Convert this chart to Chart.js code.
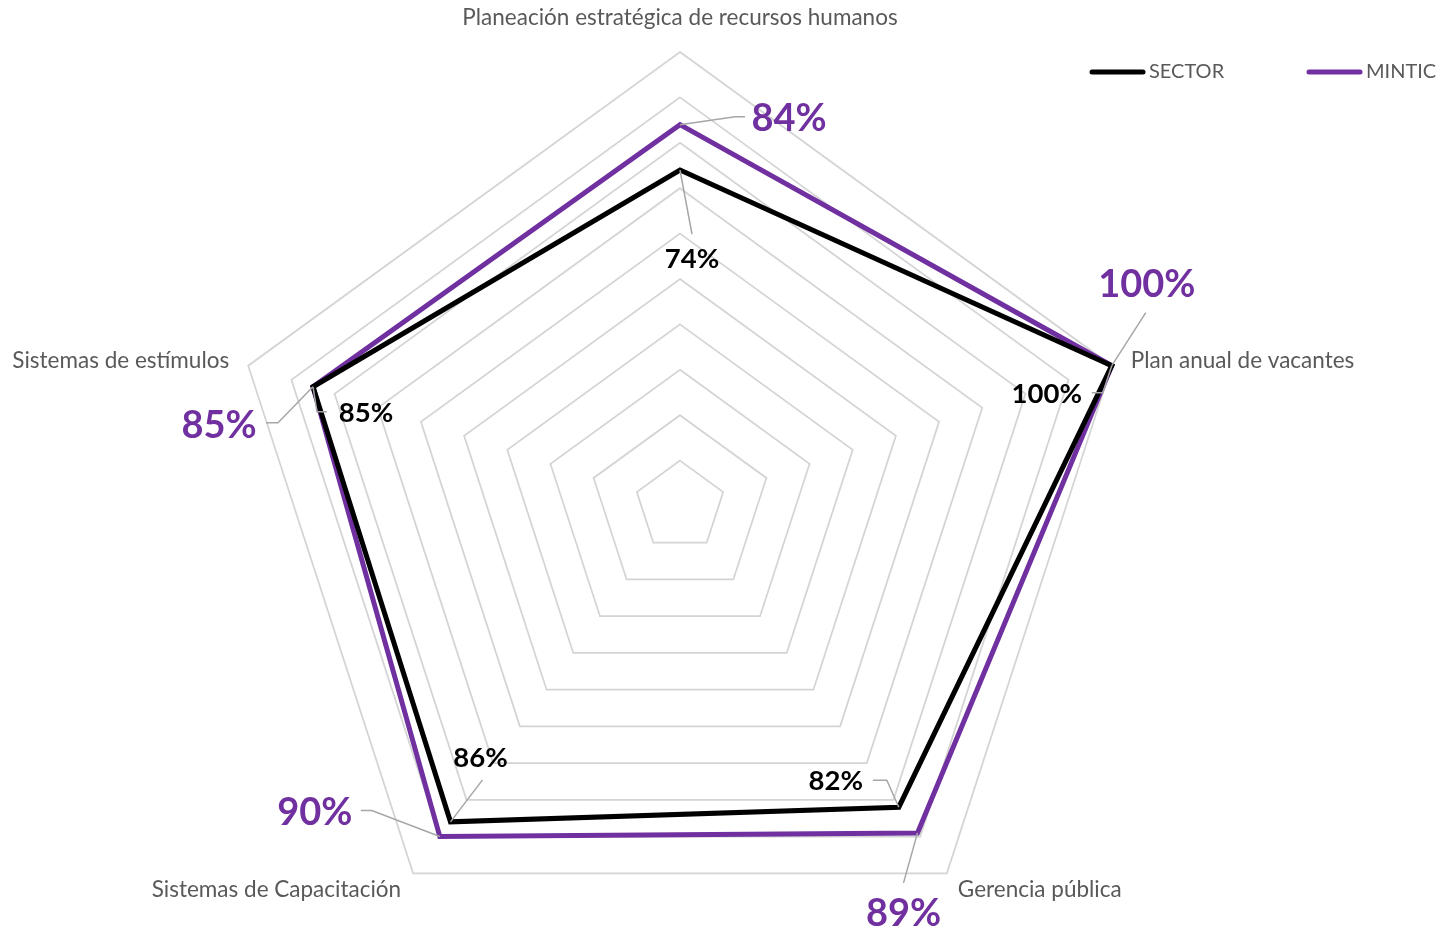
<!DOCTYPE html>
<html lang="es">
<head>
<meta charset="utf-8">
<title>Gestión estratégica del talento humano</title>
<script src="https://cdn.jsdelivr.net/npm/chart.js@4.4.1/dist/chart.umd.min.js"></script>
<style>
  html, body { margin: 0; padding: 0; background: #fff; overflow: hidden; }
  #wrap { width: 1450px; height: 937px; position: relative; }
</style>
</head>
<body>
<div id="wrap"><canvas id="chart-radar"></canvas></div>
<script>
// Categories (axes of the radar)
const categories = [
  "Planeación estratégica de recursos humanos",
  "Plan anual de vacantes",
  "Gerencia pública",
  "Sistemas de Capacitación",
  "Sistemas de estímulos",
];

// Series values, in percent
const sectorValues = [74, 100, 82, 86, 85];
const mintcValues = [84, 100, 89, 90, 85];

// Radial scale range
const scaleMin = 0;
const scaleMax = 100;
const scaleStep = 10;

const PURPLE = "#7030a0";
const GRAY_TEXT = "#595959";
const LEADER = "#a6a6a6";

// where each value label sits relative to its point, and its leader line elbows
const labelLayout = [
  // SECTOR
  [
    { dx: 12, dy: 89, path: [[12, 64]] },
    { dx: -65, dy: 28, path: [[-9, 27], [-20, 27]] },
    { dx: -63, dy: -26, path: [[-12, -27], [-26, -27]] },
    { dx: 30, dy: -64, path: [[32, -42]] },
    { dx: 53, dy: 26, path: [[4, 25], [14, 25]] },
  ],
  // MINTIC
  [
    { dx: 109, dy: -6, path: [[55, -8], [65, -8]] },
    { dx: 35, dy: -81, path: [[34, -53]] },
    { dx: -14, dy: 81, path: [[-14, 50]] },
    { dx: -125, dy: -24, path: [[-68, -26], [-79, -26]] },
    { dx: -94, dy: 39, path: [[-35, 36], [-47, 36]] },
  ],
];

// axis label placement around the outer ring
const axisLabelLayout = [
  { dx: 0, dy: -34, align: "center" },
  { dx: 19, dy: -5, align: "left" },
  { dx: 11, dy: 16, align: "left" },
  { dx: -12, dy: 16, align: "right" },
  { dx: -19, dy: -5, align: "right" },
];

const radarDecorations = {
  id: "radarDecorations",
  afterDatasetsDraw(chart) {
    const ctx = chart.ctx;
    const scale = chart.scales.r;
    ctx.save();

    // axis labels
    ctx.font = "22.5px Lato";
    ctx.fillStyle = GRAY_TEXT;
    ctx.textBaseline = "middle";
    chart.data.labels.forEach((label, i) => {
      const pos = scale.getPointPosition(i, scale.drawingArea);
      const lay = axisLabelLayout[i];
      ctx.textAlign = lay.align;
      ctx.fillText(label, pos.x + lay.dx, pos.y + lay.dy);
    });

    // value labels with leader lines
    chart.data.datasets.forEach((ds, di) => {
      const meta = chart.getDatasetMeta(di);
      meta.data.forEach((pt, i) => {
        const lay = labelLayout[di][i];
        ctx.beginPath();
        ctx.moveTo(pt.x, pt.y);
        lay.path.forEach((p) => ctx.lineTo(pt.x + p[0], pt.y + p[1]));
        ctx.strokeStyle = LEADER;
        ctx.lineWidth = 1.5;
        ctx.stroke();

        ctx.font = di === 1 ? "bold 38px Lato" : "bold 27.5px Lato";
        ctx.fillStyle = ds.borderColor;
        ctx.textAlign = "center";
        ctx.textBaseline = "middle";
        ctx.fillText(ds.data[i] + "%", pt.x + lay.dx, pt.y + lay.dy);
      });
    });

    // legend
    const legendX = [1090, 1307];
    chart.data.datasets.forEach((ds, di) => {
      const x = legendX[di];
      const y = 72;
      ctx.beginPath();
      ctx.moveTo(x + 2, y);
      ctx.lineTo(x + 53, y);
      ctx.strokeStyle = ds.borderColor;
      ctx.lineWidth = 5;
      ctx.lineCap = "round";
      ctx.stroke();
      ctx.font = "20px Lato";
      ctx.fillStyle = GRAY_TEXT;
      ctx.textAlign = "left";
      ctx.textBaseline = "middle";
      ctx.fillText(ds.label, x + 59, y);
    });

    ctx.restore();
  },
};

var ctx = document.getElementById("chart-radar").getContext("2d");
var chart = new Chart(ctx, {
  type: "radar",
  plugins: [radarDecorations],
  data: {
    labels: categories,
    datasets: [
      {
        label: "SECTOR",
        data: sectorValues,
        borderColor: "#000000",
        backgroundColor: "#000000",
        borderWidth: 5,
        borderJoinStyle: "miter",
        pointRadius: 0,
        pointHoverRadius: 0,
        fill: false,
      },
      {
        label: "MINTIC",
        data: mintcValues,
        borderColor: PURPLE,
        backgroundColor: PURPLE,
        borderWidth: 5,
        borderJoinStyle: "miter",
        pointRadius: 0,
        pointHoverRadius: 0,
        fill: false,
      },
    ],
  },
  options: {
    responsive: true,
    maintainAspectRatio: false,
    animation: false,
    plugins: {
      legend: { display: false },
      tooltip: { enabled: false },
    },
    scales: {
      r: {
        min: scaleMin,
        max: scaleMax,
        ticks: { stepSize: scaleStep, display: false },
        grid: { color: "#d4d4d4", lineWidth: 1.75 },
        angleLines: { display: false },
        pointLabels: { display: false },
        // fix the radar's centre and radius
        afterFit: function (scale) {
          scale.xCenter = 680;
          scale.yCenter = 506;
          scale.drawingArea = 454;
        },
      },
    },
  },
});
</script>
</body>
</html>
